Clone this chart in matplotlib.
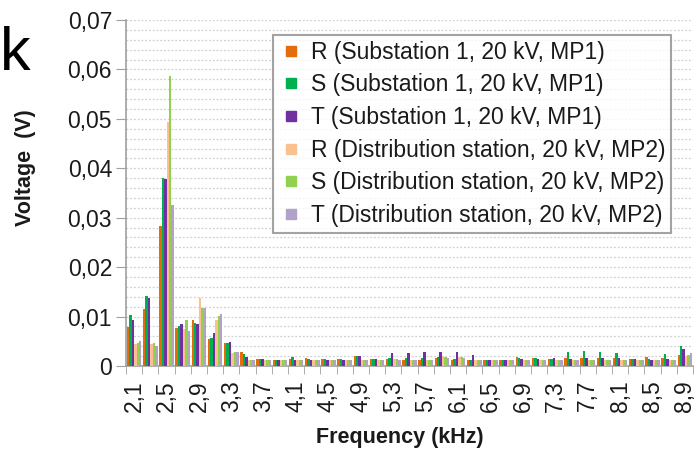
import numpy as np
import matplotlib.pyplot as plt
from matplotlib.lines import Line2D
from matplotlib.ticker import MultipleLocator, FixedLocator

plt.rcParams['font.family'] = ['Liberation Sans', 'DejaVu Sans']

# Frequency categories (kHz), one bar group each
freq_labels = ['2,1', '2,3', '2,5', '2,7', '2,9', '3,1', '3,3', '3,5', '3,7', '3,9',
               '4,1', '4,3', '4,5', '4,7', '4,9', '5,1', '5,3', '5,5', '5,7', '5,9',
               '6,1', '6,3', '6,5', '6,7', '6,9', '7,1', '7,3', '7,5', '7,7', '7,9',
               '8,1', '8,3', '8,5', '8,7', '8,9']

r_mp1 = [0.0079, 0.0116, 0.0284, 0.0076, 0.0093, 0.0055, 0.0046, 0.0029, 0.0015, 0.0012,
         0.0014, 0.0017, 0.0015, 0.0015, 0.0020, 0.0015, 0.0014, 0.0012, 0.0013, 0.0016,
         0.0013, 0.0012, 0.0012, 0.0013, 0.0018, 0.0016, 0.0014, 0.0016, 0.0017, 0.0017,
         0.0017, 0.0014, 0.0019, 0.0017, 0.0022]
s_mp1 = [0.0104, 0.0141, 0.0381, 0.0081, 0.0087, 0.0057, 0.0047, 0.0025, 0.0015, 0.0012,
         0.0018, 0.0015, 0.0014, 0.0014, 0.0021, 0.0015, 0.0016, 0.0016, 0.0016, 0.0018,
         0.0014, 0.0013, 0.0012, 0.0012, 0.0016, 0.0016, 0.0014, 0.0029, 0.0031, 0.0029,
         0.0027, 0.0014, 0.0014, 0.0024, 0.0040]
t_mp1 = [0.0094, 0.0138, 0.0378, 0.0085, 0.0084, 0.0066, 0.0048, 0.0019, 0.0015, 0.0012,
         0.0012, 0.0013, 0.0013, 0.0013, 0.0020, 0.0014, 0.0026, 0.0027, 0.0029, 0.0028,
         0.0029, 0.0022, 0.0012, 0.0013, 0.0014, 0.0015, 0.0016, 0.0015, 0.0017, 0.0016,
         0.0016, 0.0014, 0.0012, 0.0014, 0.0035]
r_mp2 = [0.0045, 0.0044, 0.0493, 0.0075, 0.0137, 0.0094, 0.0027, 0.0013, 0.0012, 0.0012,
         0.0012, 0.0012, 0.0012, 0.0012, 0.0012, 0.0012, 0.0014, 0.0012, 0.0012, 0.0020,
         0.0018, 0.0012, 0.0012, 0.0012, 0.0012, 0.0012, 0.0012, 0.0013, 0.0013, 0.0013,
         0.0013, 0.0013, 0.0012, 0.0012, 0.0021]
s_mp2 = [0.0047, 0.0046, 0.0587, 0.0093, 0.0118, 0.0101, 0.0028, 0.0013, 0.0012, 0.0012,
         0.0012, 0.0012, 0.0012, 0.0012, 0.0012, 0.0012, 0.0014, 0.0012, 0.0012, 0.0019,
         0.0018, 0.0012, 0.0012, 0.0012, 0.0012, 0.0012, 0.0012, 0.0013, 0.0013, 0.0013,
         0.0013, 0.0013, 0.0012, 0.0012, 0.0023]
t_mp2 = [0.0050, 0.0040, 0.0325, 0.0071, 0.0117, 0.0106, 0.0029, 0.0013, 0.0012, 0.0012,
         0.0012, 0.0012, 0.0012, 0.0012, 0.0012, 0.0012, 0.0013, 0.0012, 0.0012, 0.0016,
         0.0016, 0.0012, 0.0012, 0.0012, 0.0012, 0.0012, 0.0012, 0.0012, 0.0012, 0.0012,
         0.0012, 0.0012, 0.0012, 0.0012, 0.0027]

series = [
    ('R (Substation 1, 20 kV, MP1)', r_mp1, '#E46C0A'),
    ('S (Substation 1, 20 kV, MP1)', s_mp1, '#00B050'),
    ('T (Substation 1, 20 kV, MP1)', t_mp1, '#7030A0'),
    ('R (Distribution station, 20 kV, MP2)', r_mp2, '#FAC090'),
    ('S (Distribution station, 20 kV, MP2)', s_mp2, '#92D050'),
    ('T (Distribution station, 20 kV, MP2)', t_mp2, '#B3A2C7'),
]

fig = plt.figure(figsize=(6.97, 4.49), dpi=100)
ax = fig.add_axes([126 / 697, 1 - 366 / 449, (693 - 126) / 697, (366 - 20) / 449])

x = np.arange(len(freq_labels))
n = len(series)
group_w = 0.9
bw = group_w / n
for i, (name, vals, col) in enumerate(series):
    ax.bar(x - group_w / 2 + bw * (i + 0.5), vals, width=bw, color=col,
           label=name, linewidth=0, zorder=3)

ax.set_xlim(-0.5, len(freq_labels) - 0.5)
ax.set_ylim(0, 0.07)

# y axis
ax.yaxis.set_major_locator(MultipleLocator(0.01))
ax.yaxis.set_minor_locator(MultipleLocator(0.002))
ax.set_yticklabels(['0' if v == 0 else f'{v:.2f}'.replace('.', ',')
                    for v in ax.get_yticks()])
ax.grid(axis='y', which='both', color='#d0d0d0', linestyle=(0, (1.5, 1.5)),
        linewidth=0.9, zorder=0)
ax.tick_params(axis='y', which='major', length=7, color='#a0a0a0',
               labelsize=16.5, labelcolor='#1a1a1a', pad=3)
ax.tick_params(axis='y', which='minor', length=0)

# x axis: labels every other category, tick marks at category boundaries
ax.set_xticks(x[::2])
ax.set_xticklabels(freq_labels[::2], rotation=90)
ax.xaxis.set_minor_locator(FixedLocator(np.arange(-0.5, len(freq_labels), 1)))
ax.tick_params(axis='x', which='major', length=0, labelsize=16.5,
               labelcolor='#1a1a1a', pad=10)
ax.tick_params(axis='x', which='minor', length=6, color='#a0a0a0')

for side in ['top', 'right']:
    ax.spines[side].set_visible(False)
for side in ['left', 'bottom']:
    ax.spines[side].set_color('#a0a0a0')
    ax.spines[side].set_linewidth(1.2)

fig.text(400 / 697, 1 - 437 / 449, 'Frequency (kHz)', ha='center', va='center',
         fontsize=15.5, fontweight='bold', color='#1a1a1a')
fig.text(26 / 697, 1 - 168 / 449, 'Voltage  (V)', ha='center', va='center',
         rotation=90, fontsize=15.5, fontweight='bold', color='#1a1a1a')

# stray letter from the slide around the chart
fig.text(0.0, 1 - 70 / 449, 'k', fontsize=44, color='black')

# small square markers as legend keys
handles = [Line2D([], [], marker='s', linestyle='none', color=col, markersize=7)
           for _, _, col in series]
labels = [name for name, _, _ in series]
leg = ax.legend(handles, labels, loc='upper left',
                bbox_to_anchor=(273 / 697, 1 - 35 / 449),
                bbox_transform=fig.transFigure, borderaxespad=0, fontsize=16.5,
                frameon=True, fancybox=False, handlelength=1.1,
                handletextpad=0.3, labelspacing=0.42, borderpad=0.25)
leg.get_frame().set_edgecolor('#8c8c8c')
leg.get_frame().set_linewidth(1.5)
for t in leg.get_texts():
    t.set_color('#1a1a1a')

fig.savefig('out.png', dpi=100)
